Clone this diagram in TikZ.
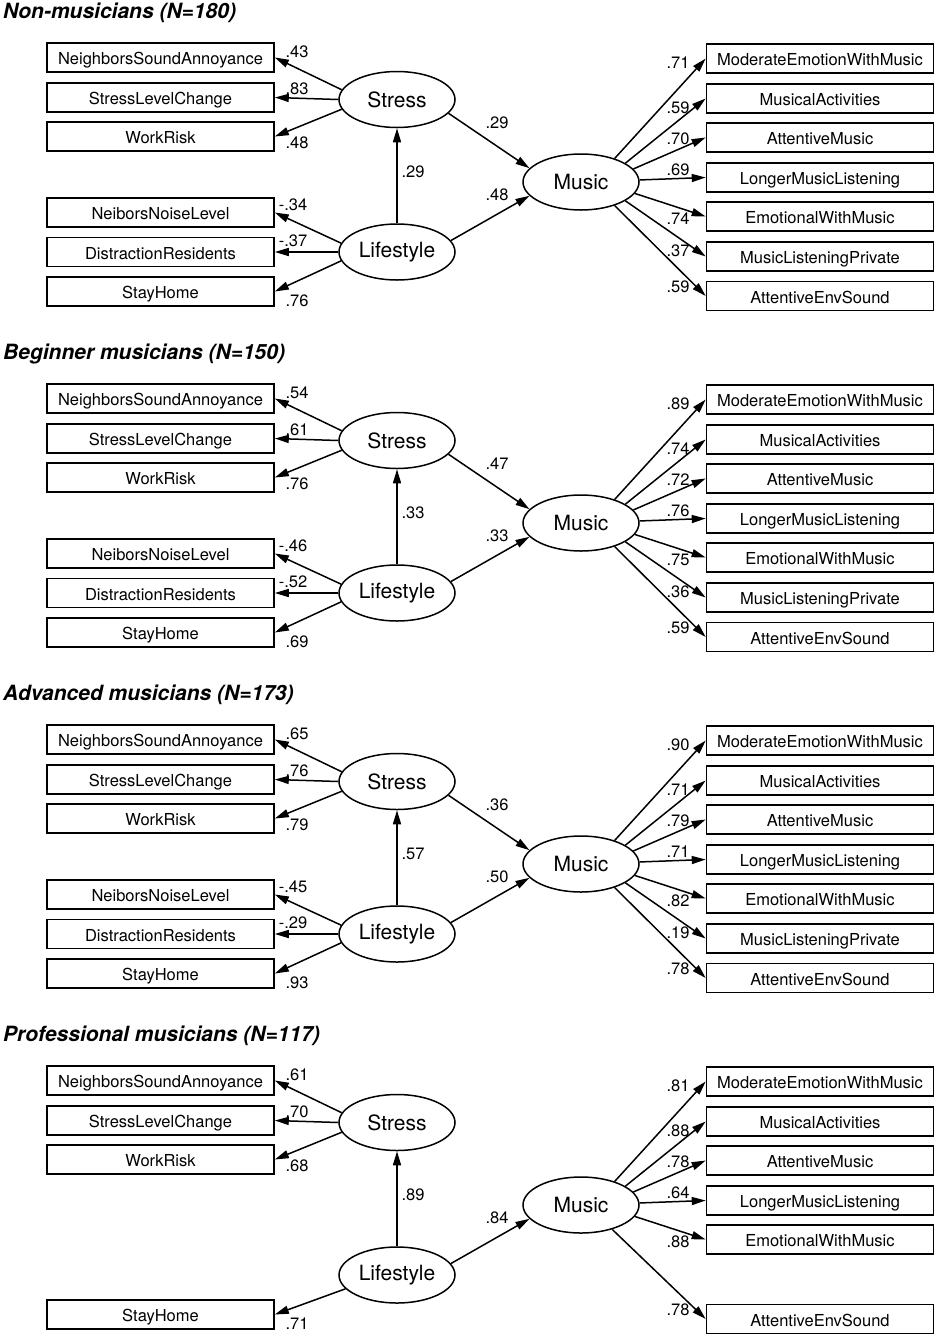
\documentclass[tikz,border=0pt]{standalone}
\usepackage{fontspec}
\setmainfont{TeX Gyre Heros}
\usetikzlibrary{arrows.meta,shapes.geometric}
\tikzset{
 obs/.style={draw, line width=1.6pt, minimum width=227pt, minimum height=29pt, inner sep=0pt, text height=14pt, text depth=0pt, font=\fontsize{16.5}{16.5}\selectfont},
 lat/.style={draw, ellipse, line width=1.5pt, minimum width=116pt, minimum height=56pt, inner sep=0pt, font=\fontsize{21}{21}\selectfont},
 lab/.style={inner sep=0pt, font=\fontsize{16.5}{16.5}\selectfont},
 arr/.style={line width=1.5pt, -{Triangle[length=14pt,width=8pt]}},
 ttl/.style={anchor=base west, inner sep=0pt, font=\fontsize{21}{21}\selectfont\bfseries\itshape},
}
% #1 prefix, #2 offset, #3 title, #4 stress loads, #5 L->S, #6 lifestyle loads, #7 S->M, #8 L->M, #9 music loads
\newcommand\mypanel[9]{%
\begin{scope}[shift={(0,#2)}]
\node[ttl] (#1-t) at (3,18) {#3};
\node[lat] (#1-S) at (397,99.5) {Stress};
\node[lat] (#1-L) at (397,252) {Lifestyle};
\node[lat] (#1-M) at (581,182) {Music};
\node[obs] (#1-l1) at (160.5,57.5) {NeighborsSoundAnnoyance};
\node[obs] (#1-l2) at (160.5,97.5) {StressLevelChange};
\node[obs] (#1-l3) at (160.5,136.5) {WorkRisk};
\node[obs] (#1-l4) at (160.5,212.5) {NeiborsNoiseLevel};
\node[obs] (#1-l5) at (160.5,252) {DistractionResidents};
\node[obs] (#1-l6) at (160.5,291.5) {StayHome};
\node[obs] (#1-r1) at (820,58.5) {ModerateEmotionWithMusic};
\node[obs] (#1-r2) at (820,98.5) {MusicalActivities};
\node[obs] (#1-r3) at (820,137.5) {AttentiveMusic};
\node[obs] (#1-r4) at (820,177.5) {LongerMusicListening};
\node[obs] (#1-r5) at (820,216.5) {EmotionalWithMusic};
\node[obs] (#1-r6) at (820,256.5) {MusicListeningPrivate};
\node[obs] (#1-r7) at (820,296) {AttentiveEnvSound};
\draw[arr] (#1-S.170) -- (#1-l1.east);
\draw[arr] (#1-S.180) -- (#1-l2.east);
\draw[arr] (#1-S.190) -- (#1-l3.east);
\draw[arr] (#1-L.171) -- (#1-l4.east);
\draw[arr] (#1-L.180) -- (#1-l5.east);
\draw[arr] (#1-L.189) -- (#1-l6.east);
\draw[arr] (#1-L.90) -- (#1-S.270);
\draw[arr] (#1-S.-15) -- (#1-M.165);
\draw[arr] (#1-L.12) -- (#1-M.195);
\draw[arr] (#1-M.35) -- (#1-r1.west);
\draw[arr] (#1-M.23) -- (#1-r2.west);
\draw[arr] (#1-M.14) -- (#1-r3.west);
\draw[arr] (#1-M.2) -- (#1-r4.west);
\draw[arr] (#1-M.-12) -- (#1-r5.west);
\draw[arr] (#1-M.-23) -- (#1-r6.west);
\draw[arr] (#1-M.-35) -- (#1-r7.west);
\foreach \v [count=\i] in {#4} {\pgfmathsetmacro\yy{{52,89,143}[\i-1]}\node[lab] (#1-sv\i) at (297,\yy) {\v};}
\foreach \v [count=\i] in {#6} {\pgfmathsetmacro\yy{{205,241,301}[\i-1]}\pgfmathsetmacro\xx{{293,293,297}[\i-1]}\node[lab] (#1-lv\i) at (\xx,\yy) {\v};}
\foreach \v [count=\i] in {#9} {\pgfmathsetmacro\yy{{62.5,107.5,138.5,169.5,218.5,251,287}[\i-1]}\node[lab] (#1-mv\i) at (678,\yy) {\v};}
\node[lab] (#1-ls) at (413,172) {#5};
\node[lab] (#1-sm) at (497,123) {#7};
\node[lab] (#1-lm) at (497,195) {#8};
\end{scope}}
\begin{document}
\begin{tikzpicture}[x=1pt,y=-1pt]
\useasboundingbox (0,0) rectangle (937,1339);
\mypanel{a}{0}{Non-musicians (N=180)}{.43,.83,.48}{.29}{-.34,-.37,.76}{.29}{.48}{.71,.59,.70,.69,.74,.37,.59}
\mypanel{b}{341}{Beginner musicians (N=150)}{.54,.61,.76}{.33}{-.46,-.52,.69}{.47}{.33}{.89,.74,.72,.76,.75,.36,.59}
\mypanel{c}{682}{Advanced musicians (N=173)}{.65,.76,.79}{.57}{-.45,-.29,.93}{.36}{.50}{.90,.71,.79,.71,.82,.19,.78}
\begin{scope}[shift={(0,1023)}]
\node[ttl] (d-t) at (3,18) {Professional musicians (N=117)};
\node[lat] (d-S) at (397,99.5) {Stress};
\node[lat] (d-L) at (397,252) {Lifestyle};
\node[lat] (d-M) at (581,182) {Music};
\node[obs] (d-l1) at (160.5,57.5) {NeighborsSoundAnnoyance};
\node[obs] (d-l2) at (160.5,97.5) {StressLevelChange};
\node[obs] (d-l3) at (160.5,136.5) {WorkRisk};
\node[obs] (d-l6) at (160.5,291.5) {StayHome};
\node[obs] (d-r1) at (820,58.5) {ModerateEmotionWithMusic};
\node[obs] (d-r2) at (820,98.5) {MusicalActivities};
\node[obs] (d-r3) at (820,137.5) {AttentiveMusic};
\node[obs] (d-r4) at (820,177.5) {LongerMusicListening};
\node[obs] (d-r5) at (820,216.5) {EmotionalWithMusic};
\node[obs] (d-r7) at (820,296) {AttentiveEnvSound};
\draw[arr] (d-S.170) -- (d-l1.east);
\draw[arr] (d-S.180) -- (d-l2.east);
\draw[arr] (d-S.190) -- (d-l3.east);
\draw[arr] (d-L.195) -- (d-l6.east);
\draw[arr] (d-L.90) -- (d-S.270);
\draw[arr] (d-L.12) -- (d-M.195);
\draw[arr] (d-M.35) -- (d-r1.west);
\draw[arr] (d-M.23) -- (d-r2.west);
\draw[arr] (d-M.14) -- (d-r3.west);
\draw[arr] (d-M.2) -- (d-r4.west);
\draw[arr] (d-M.-12) -- (d-r5.west);
\draw[arr] (d-M.-38) -- (d-r7.west);
\node[lab] (d-sv1) at (297,52) {.61};
\node[lab] (d-sv2) at (297,89) {.70};
\node[lab] (d-sv3) at (297,143) {.68};
\node[lab] (d-lv3) at (297,301) {.71};
\node[lab] (d-ls) at (413,172) {.89};
\node[lab] (d-lm) at (497,195) {.84};
\node[lab] (d-mv1) at (678,62.5) {.81};
\node[lab] (d-mv2) at (678,107.5) {.88};
\node[lab] (d-mv3) at (678,138.5) {.78};
\node[lab] (d-mv4) at (678,169.5) {.64};
\node[lab] (d-mv5) at (678,218.5) {.88};
\node[lab] (d-mv7) at (678,287) {.78};
\end{scope}
\end{tikzpicture}
\end{document}
